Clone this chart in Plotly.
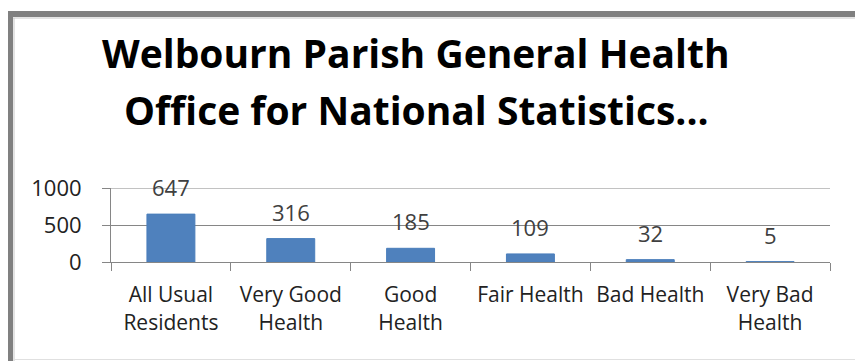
import plotly.graph_objects as go

categories = ["All Usual Residents", "Very Good Health", "Good Health",
              "Fair Health", "Bad Health", "Very Bad Health"]
tick_labels = ["All Usual<br>Residents", "Very Good<br>Health", "Good<br>Health",
               "Fair Health", "Bad Health", "Very Bad<br>Health"]
values = [647, 316, 185, 109, 32, 5]
y_ticks = [0, 500, 1000]
title_lines = ["Welbourn Parish General Health", "Office for National Statistics..."]

W, H = 855, 361
L, R, T, B = 111, 25, 188, 99
pw = W - L - R
ph = H - T - B

def px_x(p):
    return (p - L) / pw

def px_y(p):
    return (H - B - p) / ph

FONT = "Open Sans"
fig = go.Figure()
fig.add_trace(go.Bar(
    x=categories, y=values, width=0.4,
    marker=dict(color="#4F81BD", line=dict(color="#4A7EBB", width=1)),
    hoverinfo="x+y",
))

for c, v in zip(categories, values):
    fig.add_annotation(x=c, y=v, text=str(v), showarrow=False, yshift=27,
                       font=dict(family=FONT, size=22, color="#404040"),
                       yanchor="middle")

# title lines
for line, ypx in zip(title_lines, [52, 109]):
    fig.add_annotation(xref="paper", yref="paper", x=px_x(416), y=px_y(ypx),
                       text=line, showarrow=False, xanchor="center", yanchor="middle",
                       font=dict(family=FONT, size=39, color="#000000", weight="bold"))

# top gridline (at the edge of the range, drawn explicitly)
fig.add_shape(type="line", xref="paper", yref="y", x0=0, x1=1,
              y0=max(y_ticks), y1=max(y_ticks),
              line=dict(color="#868686", width=1), layer="below")

# frame (left and top gray border)
fig.add_shape(type="rect", xref="paper", yref="paper",
              x0=px_x(8), x1=px_x(13), y0=px_y(H + 5), y1=px_y(11),
              fillcolor="#808080", line=dict(width=0), layer="above")
fig.add_shape(type="rect", xref="paper", yref="paper",
              x0=px_x(8), x1=px_x(W + 5), y0=px_y(17), y1=px_y(11),
              fillcolor="#808080", line=dict(width=0), layer="above")
fig.add_shape(type="line", xref="paper", yref="paper",
              x0=px_x(13), x1=px_x(W + 5), y0=px_y(18), y1=px_y(18),
              line=dict(color="#C8C8C8", width=1))
fig.add_shape(type="line", xref="paper", yref="paper",
              x0=px_x(14), x1=px_x(14), y0=px_y(18), y1=px_y(H + 5),
              line=dict(color="#C8C8C8", width=1))
fig.add_shape(type="line", xref="paper", yref="paper",
              x0=px_x(14), x1=px_x(W + 5), y0=px_y(359.5), y1=px_y(359.5),
              line=dict(color="#E0E0E0", width=1))

fig.update_layout(
    width=W, height=H,
    margin=dict(l=L, r=R, t=T, b=B),
    paper_bgcolor="white", plot_bgcolor="white",
    showlegend=False,
    xaxis=dict(
        type="category", categoryorder="array", categoryarray=categories,
        tickmode="array", tickvals=categories, ticktext=tick_labels,
        tickson="boundaries", ticks="outside", ticklen=8, tickcolor="#868686",
        showline=True, linecolor="#868686", linewidth=1,
        tickfont=dict(family=FONT, size=21, color="#222222"),
        tickangle=0, automargin=False,
        ticklabelstandoff=14,
        range=[-0.5, len(categories) - 0.5], showgrid=False,
    ),
    yaxis=dict(
        range=[0, 1000], tickvals=y_ticks, ticktext=[str(t) for t in y_ticks],
        ticks="outside", ticklen=8, tickcolor="#868686",
        showline=True, linecolor="#868686", linewidth=1,
        showgrid=True, gridcolor="#868686", gridwidth=1,
        tickfont=dict(family=FONT, size=22, color="#222222"),
        ticklabelstandoff=16, automargin=False,
        zeroline=False,
    ),
)

fig.write_html("out.html")
